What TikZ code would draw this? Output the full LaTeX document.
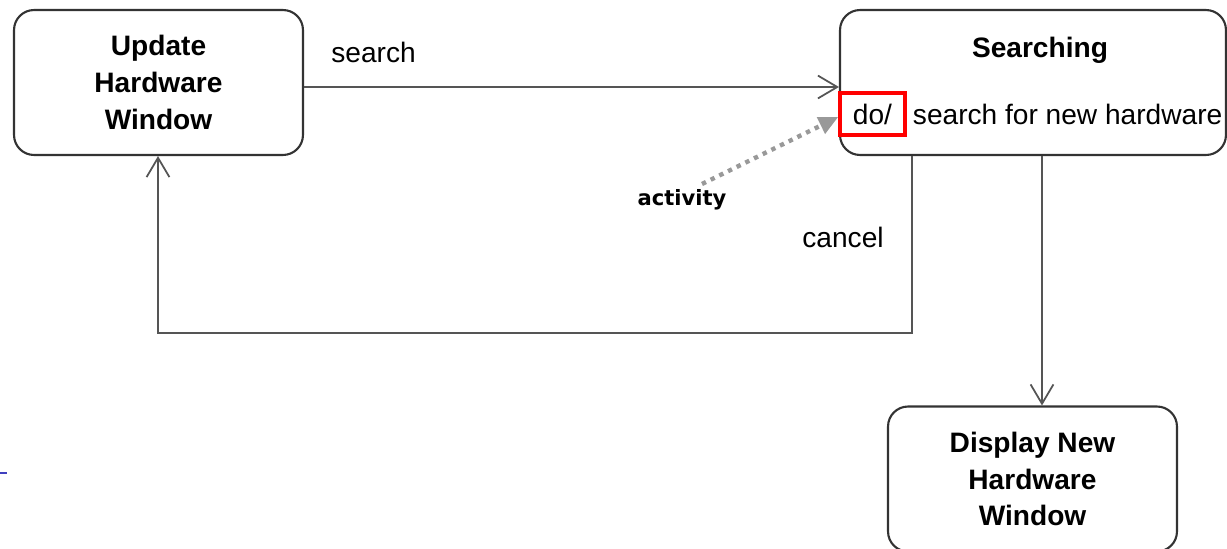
\documentclass[tikz,border=0pt]{standalone}
\usepackage{fontspec}
\setmainfont{Liberation Sans}
\newfontfamily\notefont{DejaVu Sans}
\usetikzlibrary{arrows.meta,positioning}
\definecolor{boxline}{HTML}{333333}
\definecolor{flowline}{HTML}{555555}
\definecolor{notegray}{HTML}{999999}
\tikzstyle{state}=[
	rectangle,
	rounded corners=0.4cm,
	draw=boxline,
	line width=1.2pt,
	align=center,
	font=\fontsize{16}{21}\selectfont\bfseries]
\tikzstyle{trans}=[
	draw=flowline,
	line width=1pt,
	-{Straight Barb[length=11pt,width=13pt]}]
\begin{document}
\begin{tikzpicture}[x=0.02cm,y=-0.02cm]
	\useasboundingbox (0,0) rectangle (1227,548);
		% states
		\node[state,minimum width=5.78cm,minimum height=2.9cm] (update) at (158.5,82.5)
			{Update\\Hardware\\Window};
		\node[state,minimum width=7.72cm,minimum height=2.9cm] (search) at (1033,82.5) {};
		\node[font=\fontsize{16}{21}\selectfont\bfseries] (title) at (1040,50) {Searching};
		\node[draw=red,line width=2pt,minimum width=1.3cm,minimum height=0.84cm,
			inner sep=0,font=\fontsize{16}{21}\selectfont] (dobox) at (872.5,114) {do/};
		\node[font=\fontsize{16}{21}\selectfont,anchor=west] (doact) at (dobox.east) {search for new hardware};
		\node[state,minimum width=5.78cm,minimum height=2.9cm] (display) at (1032.5,479)
			{Display New\\Hardware\\Window};
		% transitions
		\draw[trans] (update.east |- 0,87) -- (search.west |- 0,87)
			node[pos=0.13,above=0.35cm,font=\fontsize{16}{21}\selectfont] (lsearch) {search};
		\coordinate (c1) at (912,333);
		\coordinate (c2) at (158,333);
		\draw[trans] (search.south -| c1) -- (c1) -- (c2) -- (update.south -| c2);
		\node[font=\fontsize{16}{21}\selectfont] (lcancel) at (843,237) {cancel};
		\draw[trans] (search.south -| 1042,0) -- (display.north -| 1042,0);
		% note
		\node[font=\notefont\bfseries\fontsize{12}{14}\selectfont] (lact) at (682,200) {activity};
		\coordinate (a0) at (702,184);
		\draw[notegray,line width=2.5pt,dash pattern=on 2.5pt off 3pt,
			-{Triangle[length=11pt,width=10pt]}] (a0) -- (dobox.west |- 0,117);
		\draw[blue!50!gray,line width=1.2pt] (0,473) -- (7,473);
\end{tikzpicture}
\end{document}
